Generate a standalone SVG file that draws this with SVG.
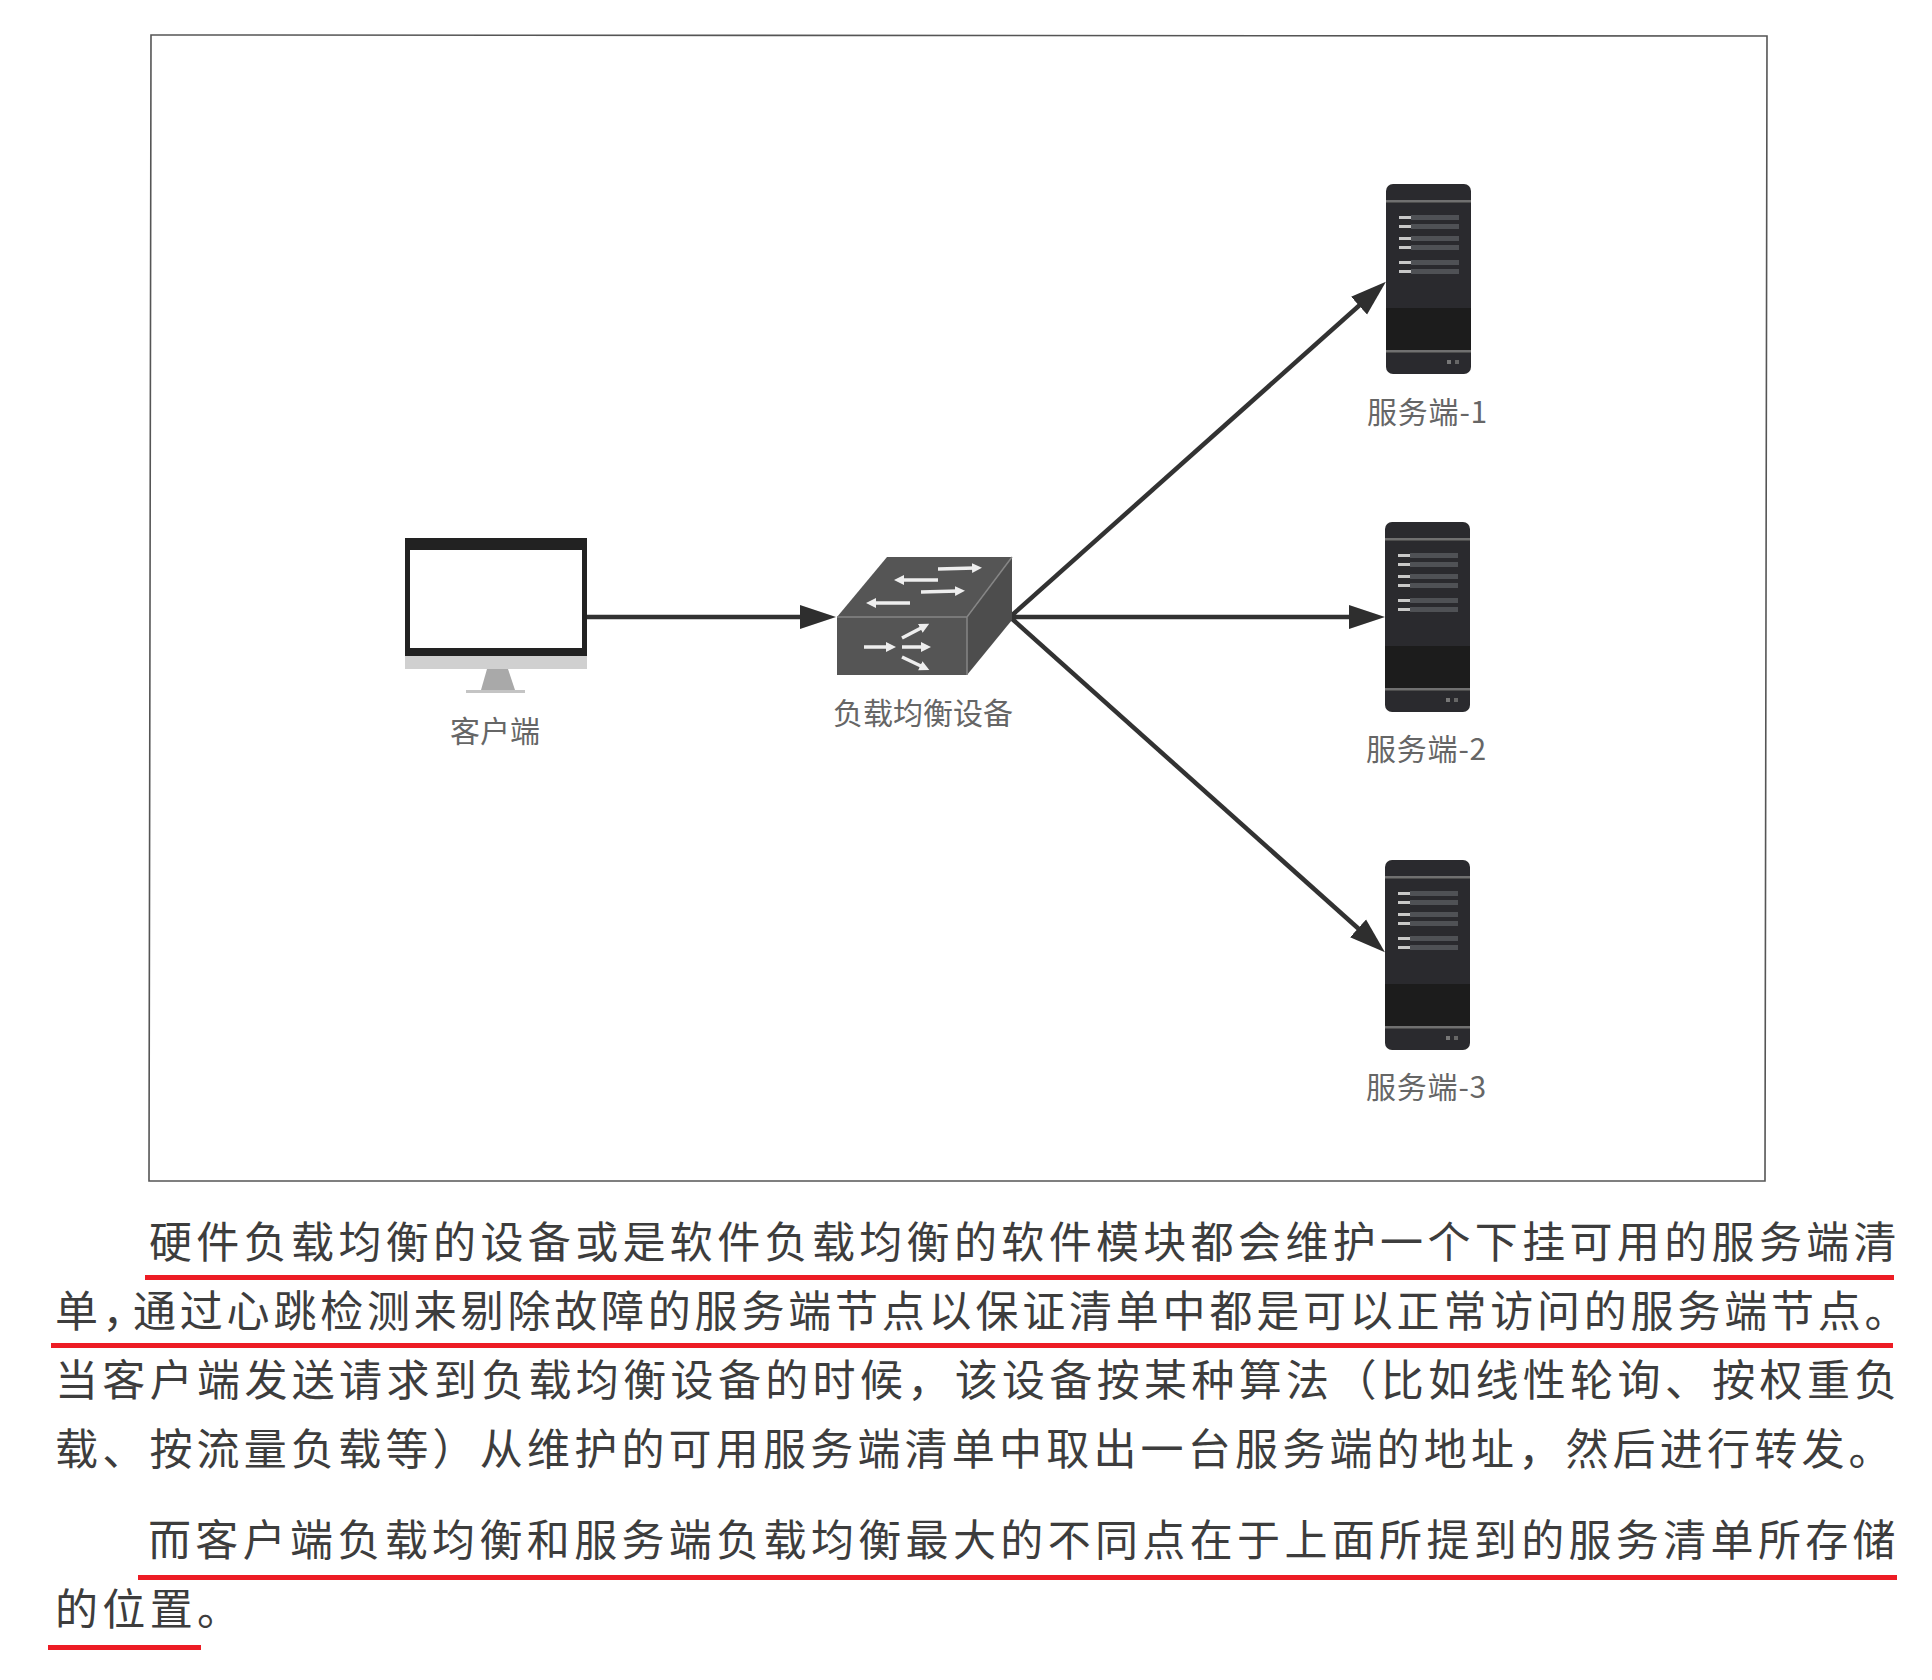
<svg xmlns="http://www.w3.org/2000/svg" width="1932" height="1680" viewBox="0 0 1932 1680">
<style>
text{font-family:"Noto Sans CJK SC","Noto Sans",sans-serif}
.lab{font-size:30px;fill:#666}
.srv{letter-spacing:.8px}
.body{font-size:43px;fill:#3d3d3d;letter-spacing:4.35px}
.conn{stroke:#333;stroke-width:4.5;fill:none;marker-end:url(#arrow)}
.ul{fill:#ed1c24}
.wa{stroke:#eee;stroke-width:3.5;fill:none;marker-end:url(#wh)}
.row{fill:#c8c8c8}
.dim{fill:#505155}
.soft{filter:url(#soft)}
</style>
<defs>
<filter id="soft" x="-5%" y="-5%" width="110%" height="110%"><feGaussianBlur stdDeviation="0.7"/></filter>
<marker id="arrow" markerUnits="userSpaceOnUse" markerWidth="38" markerHeight="26" refX="16" refY="13" orient="auto"><path d="M0,1 L36,13 L0,25 Z" fill="#2e2e2e"/></marker>
<marker id="wh" markerUnits="userSpaceOnUse" markerWidth="12" markerHeight="12" refX="3" refY="6" orient="auto"><path d="M0,1 L10,6 L0,11 Z" fill="#eee"/></marker>
<g id="srv">
<rect x="0" y="0" width="85" height="190" rx="7" fill="#2c2c2f"/>
<rect x="0" y="16" width="85" height="2.5" fill="#6f6f6f"/>
<rect x="0" y="124" width="85" height="42" fill="#1b1b1c"/>
<rect x="0" y="166" width="85" height="2.5" fill="#6f6f6f"/>
<rect class="dim" x="25" y="31" width="48" height="5"/><rect class="dim" x="25" y="40" width="48" height="5"/><rect class="dim" x="25" y="52" width="48" height="5"/><rect class="dim" x="25" y="61" width="48" height="5"/><rect class="dim" x="25" y="76" width="48" height="5"/><rect class="dim" x="25" y="85" width="48" height="5"/>
<rect class="row" x="13" y="32" width="12" height="3"/><rect class="row" x="13" y="41" width="12" height="3"/><rect class="row" x="13" y="53" width="12" height="3"/><rect class="row" x="13" y="62" width="12" height="3"/><rect class="row" x="13" y="77" width="12" height="3"/><rect class="row" x="13" y="86" width="12" height="3"/>
<rect x="61" y="176" width="4" height="4" fill="#777"/><rect x="69" y="176" width="4" height="4" fill="#666"/>
</g>
</defs>
<rect width="1932" height="1680" fill="#fff"/>
<path id="frame" d="M151,35 L1767,36 L1765,1181 L149,1181 Z" fill="#fff" stroke="#555" stroke-width="1.6"/>
<g id="connectors" class="soft">
<line class="conn" x1="587" y1="617" x2="816" y2="617"/>
<line class="conn" x1="1010" y1="617" x2="1371" y2="295"/>
<line class="conn" x1="1010" y1="617" x2="1365" y2="617"/>
<line class="conn" x1="1010" y1="617" x2="1370" y2="939"/>
</g>
<g id="client">
<g class="soft">
<rect x="405" y="538" width="182" height="118" fill="#222"/>
<rect x="410" y="550" width="172" height="98" fill="#fff"/>
<rect x="405" y="656" width="182" height="13" fill="#d0d0d0"/>
<path d="M487,669 H508 L515,690 H481 Z" fill="#a9a9a9"/>
<rect x="466" y="690" width="59" height="3" fill="#c4c4c4"/>
</g>
<text class="lab" x="495" y="742" text-anchor="middle">客户端</text>
</g>
<g id="switch">
<g class="soft">
<path d="M837,617 L887,557 H1012 L967,617 Z" fill="#555"/>
<rect x="837" y="617" width="130" height="58" fill="#555"/>
<path d="M967,617 L1012,557 V620 L967,675 Z" fill="#4e4e4e"/>
<path d="M837,617 H967 L1012,557 M967,617 V675" stroke="#858585" stroke-width="1.5" fill="none"/>
<path class="wa" d="M938,569 L975,568"/><path class="wa" d="M938,580 L901,580"/><path class="wa" d="M921,592 L958,591"/><path class="wa" d="M910,603 L873,603"/>
<path class="wa" d="M864,647 L889,647"/><path class="wa" d="M902,638 L923,627"/><path class="wa" d="M902,647 L924,647"/><path class="wa" d="M902,657 L923,667"/>
</g>
<text class="lab" x="923" y="724" text-anchor="middle">负载均衡设备</text>
</g>
<g id="server-1"><use class="soft" href="#srv" x="1386" y="184"/><text class="lab srv" x="1367" y="423">服务端-1</text></g>
<g id="server-2"><use class="soft" href="#srv" x="1385" y="522"/><text class="lab srv" x="1366" y="760">服务端-2</text></g>
<g id="server-3"><use class="soft" href="#srv" x="1385" y="860"/><text class="lab srv" x="1366" y="1098">服务端-3</text></g>
<g id="body-text">
<text class="body" x="149" y="1258">硬件负载均衡的设备或是软件负载均衡的软件模块都会维护一个下挂可用的服务端清</text>
<text class="body" x="55" y="1327"><tspan style="font-feature-settings:'halt'">单，</tspan><tspan x="133" style="letter-spacing:3.8px">通过心跳检测来剔除故障的服务端节点以保证清单中都是可以正常访问的服务端节点。</tspan></text>
<text class="body" x="55" y="1396">当客户端发送请求到负载均衡设备的时候，该设备按某种算法（比如线性轮询、按权重负</text>
<text class="body" x="55" y="1465" style="letter-spacing:4.2px">载、按流量负载等）从维护的可用服务端清单中取出一台服务端的地址，然后进行转发。</text>
<text class="body" x="148" y="1556">而客户端负载均衡和服务端负载均衡最大的不同点在于上面所提到的服务清单所存储</text>
<text class="body" x="55" y="1625">的位置。</text>
</g>
<g id="underlines">
<rect class="ul" x="145" y="1275" width="1749" height="5"/>
<rect class="ul" x="51" y="1343" width="1842" height="5"/>
<rect class="ul" x="138" y="1575" width="1759" height="5"/>
<rect class="ul" x="48" y="1645" width="153" height="5"/>
</g>
</svg>
